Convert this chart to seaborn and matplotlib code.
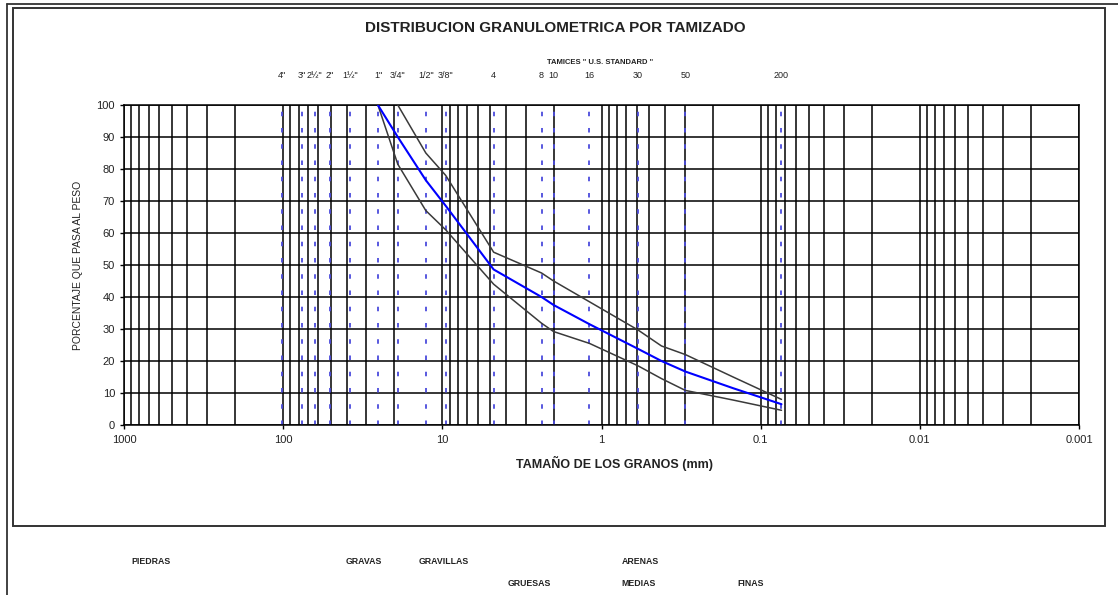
import matplotlib
matplotlib.use("Agg")
import matplotlib.pyplot as plt
import matplotlib.transforms as mtransforms
from matplotlib.lines import Line2D
from matplotlib.patches import Rectangle
from matplotlib.ticker import LogLocator, FixedLocator, FixedFormatter, NullFormatter
import pandas as pd
import seaborn as sns

# ---------------- data ----------------
sieve_sizes_mm = [101.6, 76.2, 63.5, 50.8, 38.1, 25.4, 19.05, 12.7, 9.525,
                  4.76, 2.38, 2.0, 1.19, 0.59, 0.297, 0.074]
sieve_labels = ['4"', '3"', '2½"', '2"', '1½"', '1"', '3/4"', '1/2"', '3/8"',
                '4', '8', '10', '16', '30', '50', '200']

grain_mm = [25.4, 19.05, 12.7, 9.525, 4.76, 2.38, 2.0, 1.19, 0.59, 0.42, 0.297, 0.149, 0.074]
pct_passing = [100, 90, 76.5, 68.5, 48.6, 40, 37.5, 31.5, 23.8, 20, 16.7, 11.5, 6.5]
lower_mm = [25.4, 19.05, 12.7, 9.525, 4.76, 2.38, 2.0, 1.19, 0.59, 0.42, 0.297, 0.149, 0.074]
lower_pct = [100, 81.5, 67, 61, 44, 31.8, 29.2, 25.5, 18.5, 14.5, 10.8, 7.8, 4.6]
upper_mm = [19.05, 12.7, 9.525, 4.76, 2.38, 2.0, 1.19, 0.59, 0.42, 0.297, 0.149, 0.074]
upper_pct = [100, 85, 78, 54, 47.5, 45, 38.5, 29.7, 24.7, 22, 15, 8]

x_ticks = [1000, 100, 10, 1, 0.1, 0.01, 0.001]
x_tick_labels = ['1000', '100', '10', '1', '0.1', '0.01', '0.001']
y_ticks = list(range(0, 101, 10))

row1_labels = ['PIEDRAS', 'GRAVAS', 'GRAVILLAS', 'ARENAS']
row2_labels = ['GRUESAS', 'MEDIAS', 'FINAS']

title_text = 'DISTRIBUCION GRANULOMETRICA POR TAMIZADO'
sieve_header = 'TAMICES " U.S. STANDARD "'
x_label = 'TAMAÑO DE LOS GRANOS (mm)'
y_label = 'PORCENTAJE QUE PASA AL PESO'

# ---------------- style ----------------
sns.set_style("white")
plt.rcParams['font.family'] = ['Liberation Sans', 'DejaVu Sans']

W, H = 1118, 595
fig = plt.figure(figsize=(W / 100, H / 100), dpi=100)


def fx(px):
    return px / W


def fy(py):
    return 1 - py / H


ax = fig.add_axes([fx(124), fy(425), fx(1079) - fx(124), fy(105) - fy(425)])

ax.set_xscale('log')
ax.set_xlim(1000, 0.001)
ax.set_ylim(0, 100)

# grid (black, all log subdivisions)
ax.xaxis.set_major_locator(FixedLocator(x_ticks))
ax.xaxis.set_major_formatter(FixedFormatter(x_tick_labels))
ax.xaxis.set_minor_locator(LogLocator(base=10, subs=range(2, 10), numticks=50))
ax.xaxis.set_minor_formatter(NullFormatter())
ax.set_yticks(y_ticks)
ax.grid(True, which='both', axis='x', color='black', lw=1.1, zorder=1)
ax.grid(True, which='major', axis='y', color='black', lw=1.1, zorder=1)
ax.set_axisbelow(True)

# sieve reference lines
for s in sieve_sizes_mm:
    ax.axvline(s, color='#4b4bdc', lw=1.3, dashes=(2.5, 6.5), zorder=2)

# curves
df_mid = pd.DataFrame({'mm': grain_mm, 'pct': pct_passing})
df_low = pd.DataFrame({'mm': lower_mm, 'pct': lower_pct})
df_up = pd.DataFrame({'mm': upper_mm, 'pct': upper_pct})
sns.lineplot(data=df_low, x='mm', y='pct', ax=ax, color='#3a3a3a', lw=1.1,
             sort=False, estimator=None, zorder=3)
sns.lineplot(data=df_up, x='mm', y='pct', ax=ax, color='#3a3a3a', lw=1.1,
             sort=False, estimator=None, zorder=3)
sns.lineplot(data=df_mid, x='mm', y='pct', ax=ax, color='#0000ff', lw=1.5,
             sort=False, estimator=None, zorder=4)
ax.set_xlabel('')
ax.set_ylabel('')

for sp in ax.spines.values():
    sp.set_visible(True)
    sp.set_color('black')
    sp.set_linewidth(1.1)

ax.tick_params(axis='x', which='major', direction='out', length=3, width=1,
               color='black', pad=4, labelsize=8, labelcolor='#222222')
ax.tick_params(axis='x', which='minor', length=0)
ax.tick_params(axis='y', which='major', direction='out', length=3, width=1,
               color='black', pad=3.5, labelsize=8, labelcolor='#222222')
ax.tick_params(left=True, bottom=True)

# sieve labels above the plot
trans = mtransforms.blended_transform_factory(ax.transData, ax.transAxes)
for s, lab in zip(sieve_sizes_mm, sieve_labels):
    ax.text(s, (425 - 76) / 320, lab, transform=trans, ha='center', va='center',
            fontsize=6.5, color='#222222')

# texts
fig.text(fx(555), fy(28), title_text, ha='center', va='center',
         fontsize=11, fontweight='bold', color='#222222')
fig.text(fx(600), fy(63), sieve_header, ha='center', va='center',
         fontsize=5.5, fontweight='bold', color='#222222')
fig.text(fx(615), fy(463), x_label, ha='center', va='center',
         fontsize=9, fontweight='bold', color='#222222')
fig.text(fx(78), fy(265), y_label, ha='center', va='center', rotation=90,
         fontsize=7.5, color='#222222')

row1_x = [151, 364, 444, 640]
row2_x = [529, 639, 751]
for lab, xp in zip(row1_labels, row1_x):
    fig.text(fx(xp), fy(562), lab, ha='center', va='center', fontsize=6.3,
             fontweight='bold', color='#222222')
for lab, xp in zip(row2_labels, row2_x):
    fig.text(fx(xp), fy(584), lab, ha='center', va='center', fontsize=6.3,
             fontweight='bold', color='#222222')

# page frames
fig.add_artist(Line2D([fx(7), fx(7)], [fy(595), fy(4)], color='#333333', lw=1.3,
                      transform=fig.transFigure))
fig.add_artist(Line2D([fx(7), 1.0], [fy(4), fy(4)], color='#333333', lw=1.3,
                      transform=fig.transFigure))
fig.add_artist(Rectangle((fx(12.7), fy(526)), fx(1105) - fx(12.7), fy(8.3) - fy(526),
                         fill=False, ec='#333333', lw=1.4, transform=fig.transFigure))

fig.savefig('out.png', dpi=100)
